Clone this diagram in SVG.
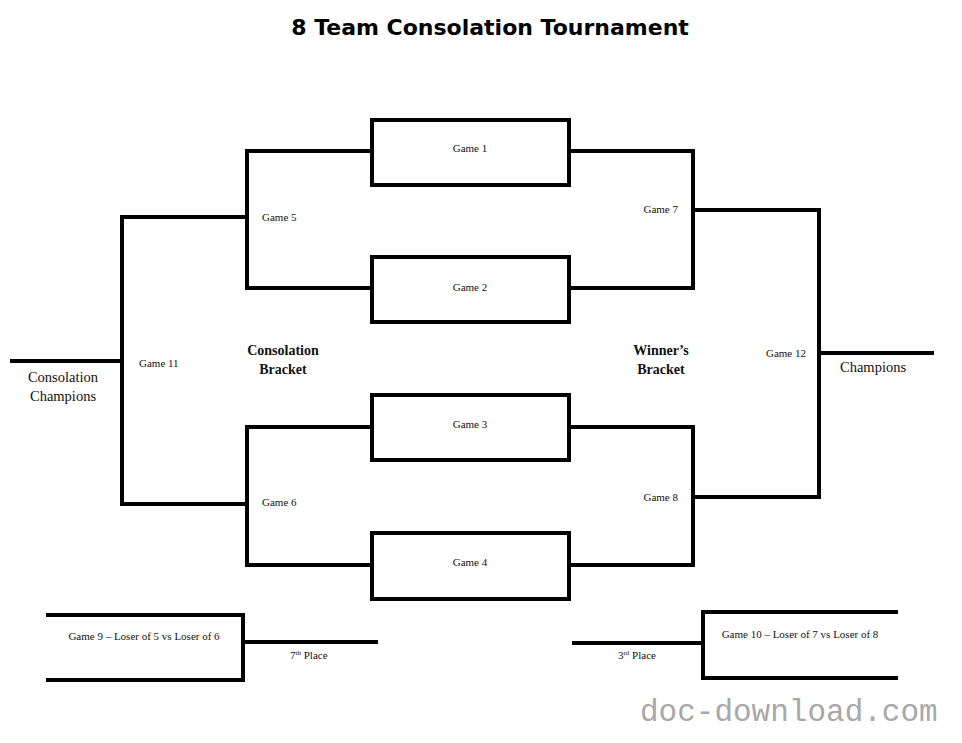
<svg xmlns="http://www.w3.org/2000/svg" width="962" height="743" viewBox="0 0 962 743">
<style>
.ln{stroke:#000;stroke-width:4;fill:none;stroke-linecap:square;stroke-linejoin:miter}
.bx{stroke:#000;stroke-width:4;fill:#fff}
.sm{font-family:"Liberation Serif","Times New Roman",serif;font-size:11px;fill:#111}
.md{font-family:"Liberation Serif","Times New Roman",serif;font-size:14.5px;fill:#111}
.bd{font-family:"Liberation Serif","Times New Roman",serif;font-size:14px;font-weight:bold;fill:#111;text-anchor:middle}
.c{text-anchor:middle}
.e{text-anchor:end}
</style>
<rect width="962" height="743" fill="#fff"/>
<text x="490" y="35" text-anchor="middle" style="font-family:'DejaVu Sans',Verdana,sans-serif;font-weight:bold;font-size:22px" fill="#000">8 Team Consolation Tournament</text>
<g id="connectors">
<path class="ln" d="M372 151 H247 V288 H372"/>
<path class="ln" d="M372 427 H247 V565 H372"/>
<path class="ln" d="M247 217 H122 V504 H247"/>
<path class="ln" d="M122 361 H12"/>
<path class="ln" d="M569 151 H693 V288 H569"/>
<path class="ln" d="M569 427 H693 V565 H569"/>
<path class="ln" d="M693 210 H819 V497 H693"/>
<path class="ln" d="M819 353 H932"/>
<path class="ln" d="M48 615 H243 V680 H48"/>
<path class="ln" d="M243 642 H376"/>
<path class="ln" d="M896 612 H703 V678 H896"/>
<path class="ln" d="M703 643 H574"/>
</g>
<g id="game1"><rect class="bx" x="372" y="120" width="197" height="65"/><text class="sm c" x="470" y="152">Game 1</text></g>
<g id="game2"><rect class="bx" x="372" y="257" width="197" height="65"/><text class="sm c" x="470" y="291">Game 2</text></g>
<g id="game3"><rect class="bx" x="372" y="395" width="197" height="65"/><text class="sm c" x="470" y="428">Game 3</text></g>
<g id="game4"><rect class="bx" x="372" y="533" width="197" height="66"/><text class="sm c" x="470" y="566">Game 4</text></g>
<g id="game5"><text class="sm" x="262" y="221">Game 5</text></g>
<g id="game6"><text class="sm" x="262" y="506">Game 6</text></g>
<g id="game7"><text class="sm e" x="678" y="213">Game 7</text></g>
<g id="game8"><text class="sm e" x="678" y="501">Game 8</text></g>
<g id="game11"><text class="sm" x="139" y="367">Game 11</text></g>
<g id="game12"><text class="sm e" x="806" y="357">Game 12</text></g>
<g id="consolation-champions"><text class="md c" x="63" y="382">Consolation</text><text class="md c" x="63" y="401">Champions</text></g>
<g id="champions"><text class="md" x="840" y="372">Champions</text></g>
<g id="consolation-bracket"><text class="bd" x="283" y="355">Consolation</text><text class="bd" x="283" y="374">Bracket</text></g>
<g id="winners-bracket"><text class="bd" x="661" y="355">Winner’s</text><text class="bd" x="661" y="374">Bracket</text></g>
<g id="game9"><text class="sm c" x="144" y="640">Game 9 – Loser of 5 vs Loser of 6</text><text class="sm" x="290" y="659">7<tspan font-size="7" dy="-4">th</tspan><tspan dy="4"> Place</tspan></text></g>
<g id="game10"><text class="sm c" x="800" y="638">Game 10 – Loser of 7 vs Loser of 8</text><text class="sm" x="618" y="659">3<tspan font-size="7" dy="-4">rd</tspan><tspan dy="4"> Place</tspan></text></g>
<text x="640" y="721" style="font-family:'Liberation Mono','Courier New',monospace;font-size:31px" fill="#a8a8a8">doc-download.com</text>
</svg>
